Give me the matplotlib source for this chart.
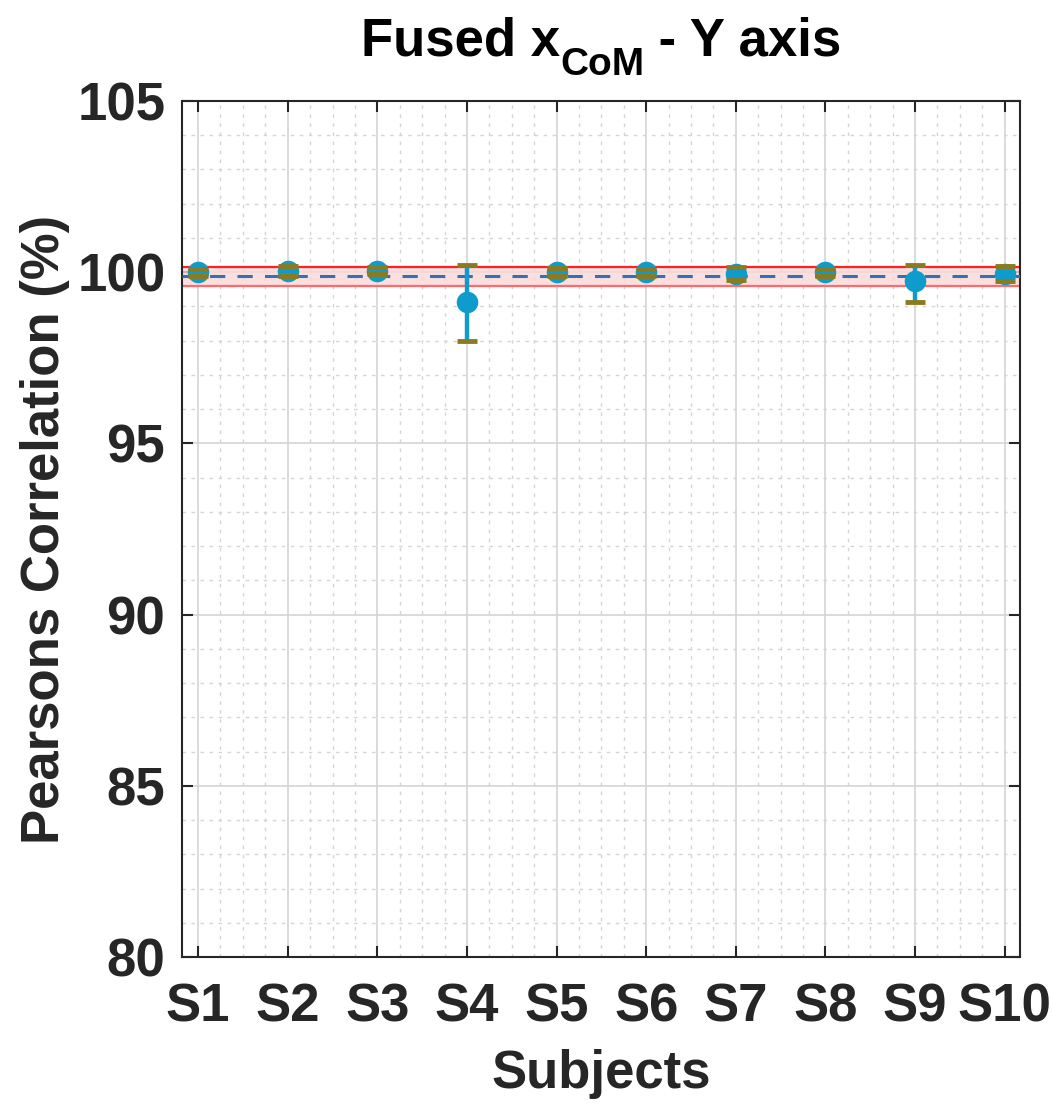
import numpy as np
import matplotlib
matplotlib.use('Agg')
import matplotlib.pyplot as plt
from matplotlib.ticker import MultipleLocator

plt.rcParams['font.family'] = 'Liberation Sans'
plt.rcParams['font.weight'] = 'bold'

# per-subject correlation (%) with lower/upper spread
subjects = ['S1', 'S2', 'S3', 'S4', 'S5', 'S6', 'S7', 'S8', 'S9', 'S10']
corr_mean = [100.00, 100.03, 100.04, 99.12, 100.00, 100.00, 99.96, 100.00, 99.73, 99.95]
corr_err_low = [0.10, 0.14, 0.10, 1.12, 0.12, 0.10, 0.19, 0.10, 0.59, 0.22]
corr_err_high = [0.10, 0.14, 0.10, 1.09, 0.12, 0.10, 0.19, 0.10, 0.48, 0.22]

blue = '#0f9bcb'
olive = '#8b7b1e'
txt = '#262626'

x = np.arange(1, len(subjects) + 1)
group_mean = np.mean(corr_mean)
group_std = np.std(corr_mean, ddof=1)

fig = plt.figure(figsize=(10.53, 11.05), dpi=100)
ax = fig.add_axes([0.1728, 0.1339, 0.7958, 0.7747])

# group mean +/- std band
ax.axhspan(group_mean - group_std, group_mean + group_std, color='#fbd6d6', alpha=0.8, lw=0, zorder=1)
ax.axhline(group_mean + group_std, color='#ff2020', lw=1.6, zorder=2)
ax.axhline(group_mean - group_std, color='#ff6a6a', lw=1.6, zorder=2)
ax.axhline(group_mean, color='#2f72b6', lw=2.2, dashes=(5, 4), zorder=3)

plotline, caplines, barcols = ax.errorbar(
    x, corr_mean, yerr=[corr_err_low, corr_err_high], fmt='o', color=blue,
    ecolor=blue, elinewidth=3.2, markersize=14.5, capsize=7, capthick=3.5, zorder=4)
for cl in caplines:
    cl.set_color(olive)
    cl.set_markeredgecolor(olive)
    cl.set_zorder(6)

ax.set_xlim(0.82, 10.17)
ax.set_ylim(80, 105)
ax.set_xticks(x)
ax.set_xticklabels(subjects)
ax.set_yticks([80, 85, 90, 95, 100, 105])
ax.xaxis.set_minor_locator(MultipleLocator(0.25))
ax.yaxis.set_minor_locator(MultipleLocator(1))

ax.grid(which='major', color='#d4d4d4', lw=1.2, ls='-', zorder=0)
ax.grid(which='minor', color='#d4d4d4', lw=1.0, ls=(0, (2.5, 4)), zorder=0)
ax.set_axisbelow(True)

ax.tick_params(which='major', direction='in', length=8, width=1.5, color=txt,
               top=True, right=True, labelsize=38, labelcolor=txt)
ax.tick_params(which='minor', length=0)
ax.tick_params(axis='y', pad=12)
ax.tick_params(axis='x', pad=18)
for s in ax.spines.values():
    s.set_linewidth(1.5)
    s.set_color(txt)

# title with a lowered subscript, laid out piece by piece
renderer = fig.canvas.get_renderer()
pieces = [('Fused x', 38, 0.0), ('CoM', 28, -0.018), (' - Y axis', 38, 0.0)]
widths = []
for s, fs, dy in pieces:
    t = fig.text(0, 0, s, fontsize=fs, fontweight='bold')
    widths.append(t.get_window_extent(renderer).width / fig.bbox.width)
    t.remove()
xpos = 0.571 - sum(widths) / 2
for (s, fs, dy), w in zip(pieces, widths):
    fig.text(xpos, 0.950 + dy, s, ha='left', va='baseline', fontsize=fs,
             fontweight='bold', color='black')
    xpos += w

fig.text(0.571, 0.0154, 'Subjects', ha='center', va='baseline',
         fontsize=38, fontweight='bold', color=txt)
fig.text(0.043, 0.521, 'Pearsons Correlation (%)', ha='center', va='center',
         rotation=90, fontsize=38, fontweight='bold', color=txt)

fig.savefig('out.png', dpi=100)
